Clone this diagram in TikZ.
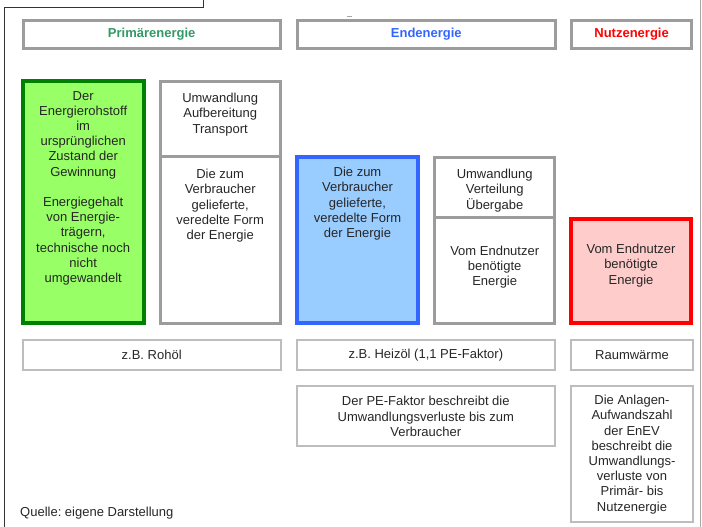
\documentclass[tikz,border=0pt]{standalone}
\usepackage{fontspec}
\setmainfont{Liberation Sans}
\usepackage{tikz}
\frenchspacing
\definecolor{rahmengrau}{HTML}{9C9C9C}
\definecolor{hellgrau}{HTML}{BDBDBD}
\definecolor{primgruen}{HTML}{339966}
\definecolor{dunkelgruen}{HTML}{008000}
\definecolor{hellgruen}{HTML}{99FF66}
\definecolor{endblau}{HTML}{3366FF}
\definecolor{hellblau}{HTML}{99CCFF}
\definecolor{hellrot}{HTML}{FFCCCC}
\tikzset{
	headbox/.style={line width=3pt, color=rahmengrau},
	graybox/.style={line width=3pt, color=rahmengrau},
	thinbox/.style={line width=2pt, color=hellgrau},
	greenbox/.style={line width=4pt, draw=dunkelgruen, fill=hellgruen},
	bluebox/.style={line width=4pt, draw=endblau, fill=hellblau},
	redbox/.style={line width=4pt, draw=red, fill=hellrot},
	txt/.style={align=center, inner sep=0pt, text=black!85, font=\fontsize{13}{15.2}\selectfont},
	headtxt/.style={inner sep=0pt, font=\fontsize{13}{15.2}\selectfont\bfseries}
}

\begin{document}
\begin{tikzpicture}[x=1pt, y=-1pt]
		%%%%% START %%%%%
		\useasboundingbox (0, 0) rectangle (702, 527);
		
		\draw[line width=1pt, color=black!80] (203.5, 0) -- (203.5, 7.5) -- (4.5, 7.5) -- (4.5, 527);
		\draw[line width=1pt, color=black!35] (700.5, 0) -- (700.5, 527);
		\draw[line width=1pt, color=black!35] (347, 16.5) -- (352, 16.5);
		
		% Kopfzeile
		\draw[headbox] (23.2, 20.5) rectangle (280.2, 48.5);
		\draw[headbox] (297.5, 20.5) rectangle (555.2, 48.5);
		\draw[headbox] (571.5, 20.5) rectangle (691.8, 48.5);
		\node[headtxt, text=primgruen] (primaer) at (151.7, 34.5) {Primärenergie};
		\node[headtxt, text=endblau] (ende) at (426.3, 34.5) {Endenergie};
		\node[headtxt, text=red] (nutz) at (631.6, 34.5) {Nutzenergie};
		
		% Kaesten
		\draw[greenbox] (22.7, 81) rectangle (143.7, 323);
		\draw[graybox] (160.2, 81.5) rectangle (280.2, 156);
		\draw[graybox] (160.2, 156) rectangle (280.2, 323.5);
		\draw[bluebox] (297, 157) rectangle (418, 323);
		\draw[graybox] (434.8, 157.5) rectangle (554.5, 217.5);
		\draw[graybox] (434.8, 217.5) rectangle (554.5, 323.5);
		\draw[redbox] (571.3, 218.7) rectangle (690.7, 323);
		
		\node[txt, anchor=north] (rohstoff) at (83.2, 91) {Der\\Energierohstoff\\im\\ursprünglichen\\Zustand der\\Gewinnung\\[15.2pt]Energiegehalt\\von Energie-\\trägern,\\technische noch\\nicht\\umgewandelt};
		\node[txt, anchor=north] (umw1) at (220.2, 93) {Umwandlung\\Aufbereitung\\Transport};
		\node[txt, anchor=north] (veredelt1) at (220.2, 169) {Die zum\\Verbraucher\\gelieferte,\\veredelte Form\\der Energie};
		\node[txt, anchor=north] (veredelt2) at (357.5, 167) {Die zum\\Verbraucher\\gelieferte,\\veredelte Form\\der Energie};
		\node[txt, anchor=north] (umw2) at (494.7, 169) {Umwandlung\\Verteilung\\Übergabe};
		\node[txt, anchor=north] (bedarf1) at (494.7, 245.5) {Vom Endnutzer\\benötigte\\Energie};
		\node[txt, anchor=north] (bedarf2) at (631, 244) {Vom Endnutzer\\benötigte\\Energie};
		
		% Beispiele
		\draw[thinbox] (22.5, 340.3) rectangle (281, 369.7);
		\draw[thinbox] (296.6, 340.3) rectangle (555, 369.7);
		\draw[thinbox] (571, 340.3) rectangle (693, 369.7);
		\node[txt] (rohoel) at (151.7, 355) {z.B. Rohöl};
		\node[txt] (heizoel) at (425.8, 355) {z.B. Heizöl (1,1 PE-Faktor)};
		\node[txt] (raum) at (632, 355) {Raumwärme};
		
		\draw[thinbox] (296.6, 386.3) rectangle (555, 445.7);
		\draw[thinbox] (571, 386.3) rectangle (693, 522.3);
		\node[txt] (pefaktor) at (425.8, 416.5) {Der PE-Faktor beschreibt die\\Umwandlungsverluste bis zum\\Verbraucher};
		\node[txt] (anlagen) at (632, 454.5) {Die Anlagen-\\Aufwandszahl\\der EnEV\\beschreibt die\\Umwandlungs-\\verluste von\\Primär- bis\\Nutzenergie};
		
		\node[txt, anchor=west] (quelle) at (20, 513) {Quelle: eigene Darstellung};
		%%%%% END %%%%%
	\end{tikzpicture}
\end{document}
